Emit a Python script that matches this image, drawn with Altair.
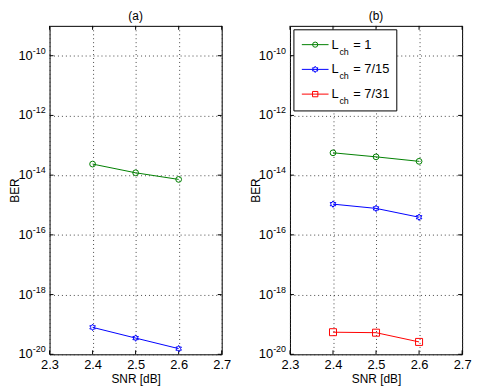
import altair as alt
import pandas as pd

# ---- data ----
snr = [2.4, 2.5, 2.6]
series_names = ["L_ch = 1", "L_ch = 7/15", "L_ch = 7/31"]
legend_values = ["1", "7/15", "7/31"]
colors = ["#008000", "#0000ff", "#ff0000"]

a_lch1 = [2.35e-14, 1.2e-14, 7.2e-15]
a_lch715 = [8.0e-20, 3.5e-20, 1.55e-20]

b_lch1 = [5.6e-14, 4.1e-14, 2.9e-14]
b_lch715 = [1.07e-15, 7.7e-16, 3.9e-16]
b_lch731 = [5.5e-20, 5.3e-20, 2.6e-20]

x_ticks = [2.3, 2.4, 2.5, 2.6, 2.7]
y_ticks = [1e-20, 1e-18, 1e-16, 1e-14, 1e-12, 1e-10]
y_exps = ["-20", "-18", "-16", "-14", "-12", "-10"]

HEX = ("M0,-1L0.289,-0.5L0.866,-0.5L0.577,0L0.866,0.5L0.289,0.5L0,1"
       "L-0.289,0.5L-0.866,0.5L-0.577,0L-0.866,-0.5L-0.289,-0.5Z")
shapes = ["circle", HEX, "square"]
sizes = [34, 50, 36]

W, H = 174, 332
FONT = "Liberation Sans"
GRID = dict(grid=True, gridDash=[1, 3], gridColor="#333", gridOpacity=0.9, gridWidth=1)

xscale = alt.Scale(domain=[2.3, 2.7], nice=False, zero=False)
yscale = alt.Scale(type="log", domain=[1e-20, 1e-9], nice=False)


def series_df(lists, names):
    rows = []
    for vals, name in zip(lists, names):
        for s, v in zip(snr, vals):
            rows.append({"snr": s, "ber": v, "series": name})
    return pd.DataFrame(rows)


tick_df = pd.DataFrame({"v": y_ticks, "base": ["10"] * len(y_ticks), "exp": y_exps})
xtick_df = pd.DataFrame({"s": x_ticks})
one_df = pd.DataFrame({"k": [0]})


def txt(**kw):
    return dict(font=FONT, color="#000", fontWeight="normal", **kw)


def panel(title, df, with_legend=False):
    base = alt.Chart(df)
    xenc = alt.X("snr:Q", scale=xscale,
                 axis=alt.Axis(values=x_ticks, format=".1f", title="SNR [dB]",
                               ticks=False, domain=False, labelFlush=False,
                               labelPadding=4, titlePadding=2, **GRID))
    yenc = alt.Y("ber:Q", scale=yscale,
                 axis=alt.Axis(values=y_ticks, labels=False, title="BER",
                               ticks=False, domain=False,
                               titlePadding=28, **GRID))
    color = alt.Color("series:N", scale=alt.Scale(domain=series_names, range=colors), legend=None)
    shape = alt.Shape("series:N", scale=alt.Scale(domain=series_names, range=shapes), legend=None)
    size = alt.Size("series:N", scale=alt.Scale(domain=series_names, range=sizes), legend=None)

    lines = base.mark_line(strokeWidth=1).encode(x=xenc, y=yenc, color=color, detail="series:N")
    pts = base.mark_point(filled=False, strokeWidth=1, opacity=1).encode(
        x="snr:Q", y="ber:Q", color=color, shape=shape, size=size)

    # y tick labels 10^k
    lab_base = alt.Chart(tick_df).mark_text(align="right", baseline="middle", fontSize=13,
                                            **txt()).encode(
        y=alt.Y("v:Q", scale=yscale), x=alt.value(-17), text="base:N")
    lab_exp = alt.Chart(tick_df).mark_text(align="left", baseline="middle", fontSize=9,
                                           dy=-5, **txt()).encode(
        y=alt.Y("v:Q", scale=yscale), x=alt.value(-17), text="exp:N")

    # inward ticks on all sides
    tl = alt.Chart(tick_df).mark_rule(color="#000", strokeWidth=1).encode(
        y=alt.Y("v:Q", scale=yscale), x=alt.value(0), x2=alt.value(4))
    tr = alt.Chart(tick_df).mark_rule(color="#000", strokeWidth=1).encode(
        y=alt.Y("v:Q", scale=yscale), x=alt.value(W - 4), x2=alt.value(W))
    tt = alt.Chart(xtick_df).mark_rule(color="#000", strokeWidth=1).encode(
        x=alt.X("s:Q", scale=xscale), y=alt.value(0), y2=alt.value(4))
    tb = alt.Chart(xtick_df).mark_rule(color="#000", strokeWidth=1).encode(
        x=alt.X("s:Q", scale=xscale), y=alt.value(H - 4), y2=alt.value(H))

    layers = [tl, tr, tt, tb, lines, pts, lab_base, lab_exp]

    if with_legend:
        bx0, bx1, by0, by1 = 4, 108, 4, 86
        layers.append(alt.Chart(one_df).mark_rect(fill="white", stroke="#000", strokeWidth=1).encode(
            x=alt.value(bx0), x2=alt.value(bx1), y=alt.value(by0), y2=alt.value(by1)))
        for i, (c, sh, sz, val) in enumerate(zip(colors, shapes, sizes, legend_values)):
            yy = 19 + 25 * i
            layers.append(alt.Chart(one_df).mark_rule(color=c, strokeWidth=1).encode(
                x=alt.value(12), x2=alt.value(39), y=alt.value(yy)))
            layers.append(alt.Chart(one_df).mark_point(filled=False, color=c, strokeWidth=1,
                                                       shape=sh, size=sz * 0.8, opacity=1).encode(
                x=alt.value(25.5), y=alt.value(yy)))
            layers.append(alt.Chart(one_df).mark_text(align="left", baseline="middle", fontSize=13,
                                                      **txt()).encode(
                x=alt.value(42), y=alt.value(yy), text=alt.value("L")))
            layers.append(alt.Chart(one_df).mark_text(align="left", baseline="middle", fontSize=9,
                                                      **txt()).encode(
                x=alt.value(50), y=alt.value(yy + 7), text=alt.value("ch")))
            layers.append(alt.Chart(one_df).mark_text(align="left", baseline="middle", fontSize=13,
                                                      **txt()).encode(
                x=alt.value(64), y=alt.value(yy), text=alt.value("= " + val)))

    return alt.layer(*layers).properties(
        width=W, height=H,
        title=alt.TitleParams(title, fontSize=12, font=FONT, fontWeight="normal", offset=2,
                              color="#000"),
    )


df_a = series_df([a_lch1, a_lch715], series_names[:2])
df_b = series_df([b_lch1, b_lch715, b_lch731], series_names)

chart = alt.hconcat(panel("(a)", df_a), panel("(b)", df_b, with_legend=True), spacing=17).properties(
    padding={"left": 0, "top": 0, "right": 0, "bottom": 0},
    background="white",
).configure_view(stroke="#000", strokeWidth=1).configure_axis(
    labelFont=FONT, titleFont=FONT, labelFontSize=13, titleFontSize=12,
    labelColor="#000", titleColor="#000", titleFontWeight="normal"
)

chart.save("out.html", embed_options={"renderer": "svg", "actions": False})
